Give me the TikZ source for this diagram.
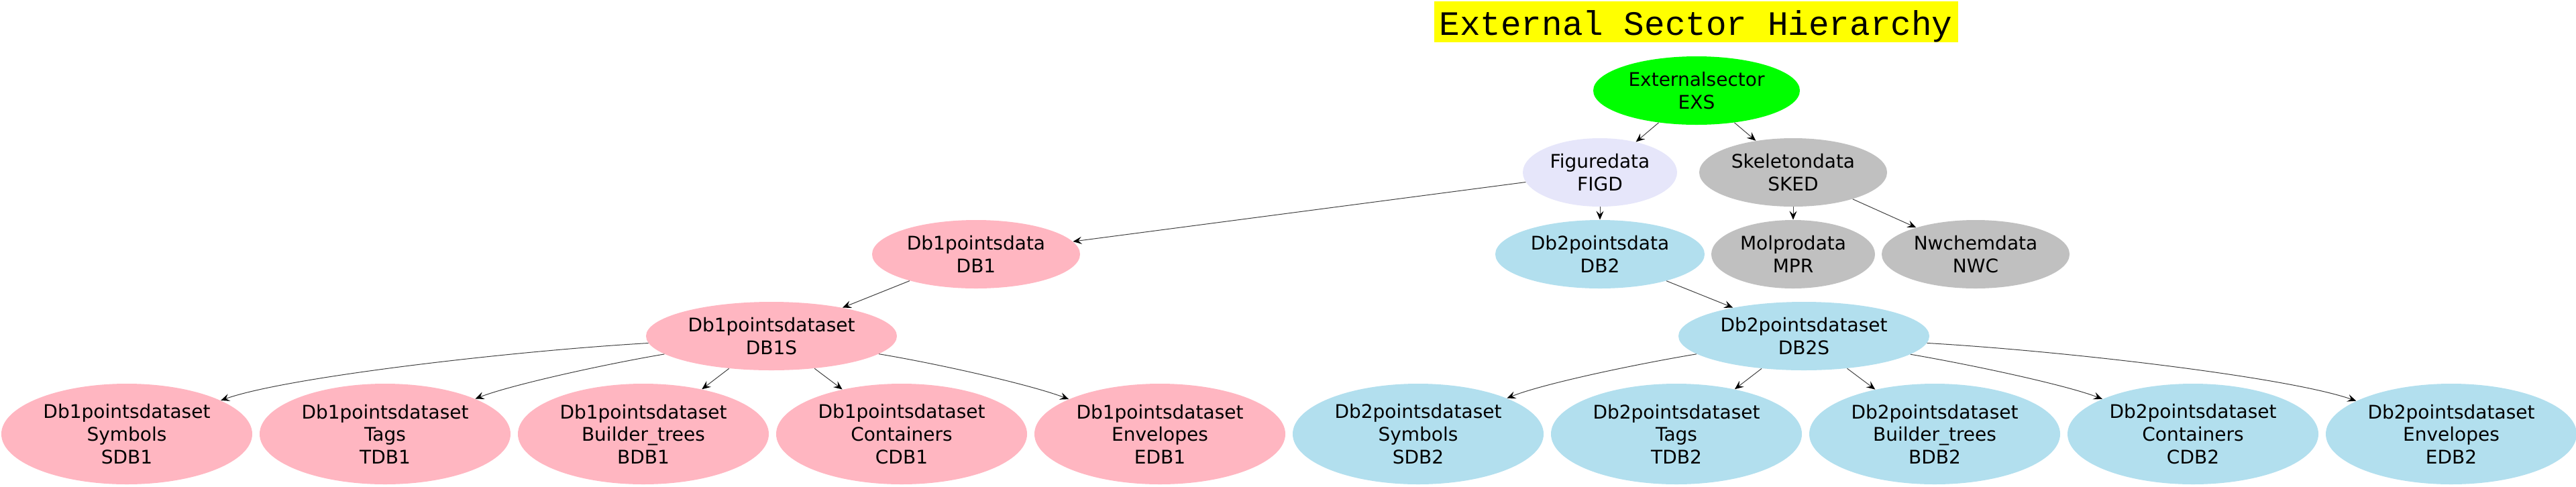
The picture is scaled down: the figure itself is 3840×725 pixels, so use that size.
\documentclass[tikz,border=0pt]{standalone}
\usepackage{fontspec}
\setmainfont{DejaVu Sans}
\newfontfamily\titlefont{Liberation Mono}
\usetikzlibrary{shapes.geometric,arrows.meta}
\definecolor{cgreen}{HTML}{00FF00}
\definecolor{clav}{HTML}{E6E6FA}
\definecolor{cgrey}{HTML}{C0C0C0}
\definecolor{cpink}{HTML}{FFB6C1}
\definecolor{cblue}{HTML}{B2DFEE}
\definecolor{cyellow}{HTML}{FFFF00}
\tikzset{
  ell/.style={ellipse, inner sep=0pt, minimum height=51pt, align=center,
    font=\fontsize{14}{16.8}\selectfont},
  big/.style={ell, minimum width=187pt, minimum height=75pt},
  edge/.style={draw=black!75, line width=0.5pt,
    -{Stealth[length=6.5pt,width=5.5pt,inset=2.5pt,color=black]}},
  titlebox/.style={fill=cyellow, inner sep=0pt, minimum width=390.5pt,
    text height=25pt, text depth=5.5pt, font=\titlefont\fontsize{25.5}{30}\selectfont}
}
\begin{document}
\begin{tikzpicture}[x=0.5pt,y=-0.5pt]
\useasboundingbox (0,0) rectangle (3840,725);
\node[titlebox, anchor=base] (title) at (2528,52) {External Sector Hierarchy};

\node[ell, fill=cgreen, minimum width=154pt] (EXS) at (2529,135) {Externalsector\\EXS};
\node[ell, fill=clav, minimum width=115pt] (FIGD) at (2385,257) {Figuredata\\FIGD};
\node[ell, fill=cgrey, minimum width=140pt] (SKED) at (2673,257) {Skeletondata\\SKED};
\node[ell, fill=cpink, minimum width=155pt] (DB1) at (1455,379) {Db1pointsdata\\DB1};
\node[ell, fill=cblue, minimum width=156pt] (DB2) at (2385,379) {Db2pointsdata\\DB2};
\node[ell, fill=cgrey, minimum width=122pt] (MPR) at (2673,379) {Molprodata\\MPR};
\node[ell, fill=cgrey, minimum width=140pt] (NWC) at (2945,379) {Nwchemdata\\NWC};
\node[ell, fill=cpink, minimum width=187pt] (DB1S) at (1150,501) {Db1pointsdataset\\DB1S};
\node[ell, fill=cblue, minimum width=187pt] (DB2S) at (2689,501) {Db2pointsdataset\\DB2S};

\node[big, fill=cpink] (SDB1) at (189,647) {Db1pointsdataset\\Symbols\\SDB1};
\node[big, fill=cpink] (TDB1) at (574,647) {Db1pointsdataset\\Tags\\TDB1};
\node[big, fill=cpink] (BDB1) at (959,647) {Db1pointsdataset\\Builder\_trees\\BDB1};
\node[big, fill=cpink] (CDB1) at (1344,647) {Db1pointsdataset\\Containers\\CDB1};
\node[big, fill=cpink] (EDB1) at (1729,647) {Db1pointsdataset\\Envelopes\\EDB1};
\node[big, fill=cblue] (SDB2) at (2114,647) {Db2pointsdataset\\Symbols\\SDB2};
\node[big, fill=cblue] (TDB2) at (2499,647) {Db2pointsdataset\\Tags\\TDB2};
\node[big, fill=cblue] (BDB2) at (2884,647) {Db2pointsdataset\\Builder\_trees\\BDB2};
\node[big, fill=cblue] (CDB2) at (3269,647) {Db2pointsdataset\\Containers\\CDB2};
\node[big, fill=cblue] (EDB2) at (3654,647) {Db2pointsdataset\\Envelopes\\EDB2};

\draw[edge] (EXS) -- (FIGD);
\draw[edge] (EXS) -- (SKED);
\draw[edge] (FIGD) -- (DB1);
\draw[edge] (FIGD) -- (DB2);
\draw[edge] (SKED) -- (MPR);
\draw[edge] (SKED) -- (NWC);
\draw[edge] (DB1) -- (DB1S);
\draw[edge] (DB2) -- (DB2S);
\draw[edge] (DB1S) .. controls (766,523) and (427,562) .. (SDB1);
\draw[edge] (DB1S) .. controls (901,543) and (761,574) .. (TDB1);
\draw[edge] (DB1S) -- (BDB1);
\draw[edge] (DB1S) -- (CDB1);
\draw[edge] (DB1S) .. controls (1402,543) and (1538,574) .. (EDB1);
\draw[edge] (DB2S) .. controls (2438,543) and (2300,572) .. (SDB2);
\draw[edge] (DB2S) -- (TDB2);
\draw[edge] (DB2S) -- (BDB2);
\draw[edge] (DB2S) .. controls (2940,544) and (3080,574) .. (CDB2);
\draw[edge] (DB2S) .. controls (3075,523) and (3410,562) .. (EDB2);
\end{tikzpicture}
\end{document}
